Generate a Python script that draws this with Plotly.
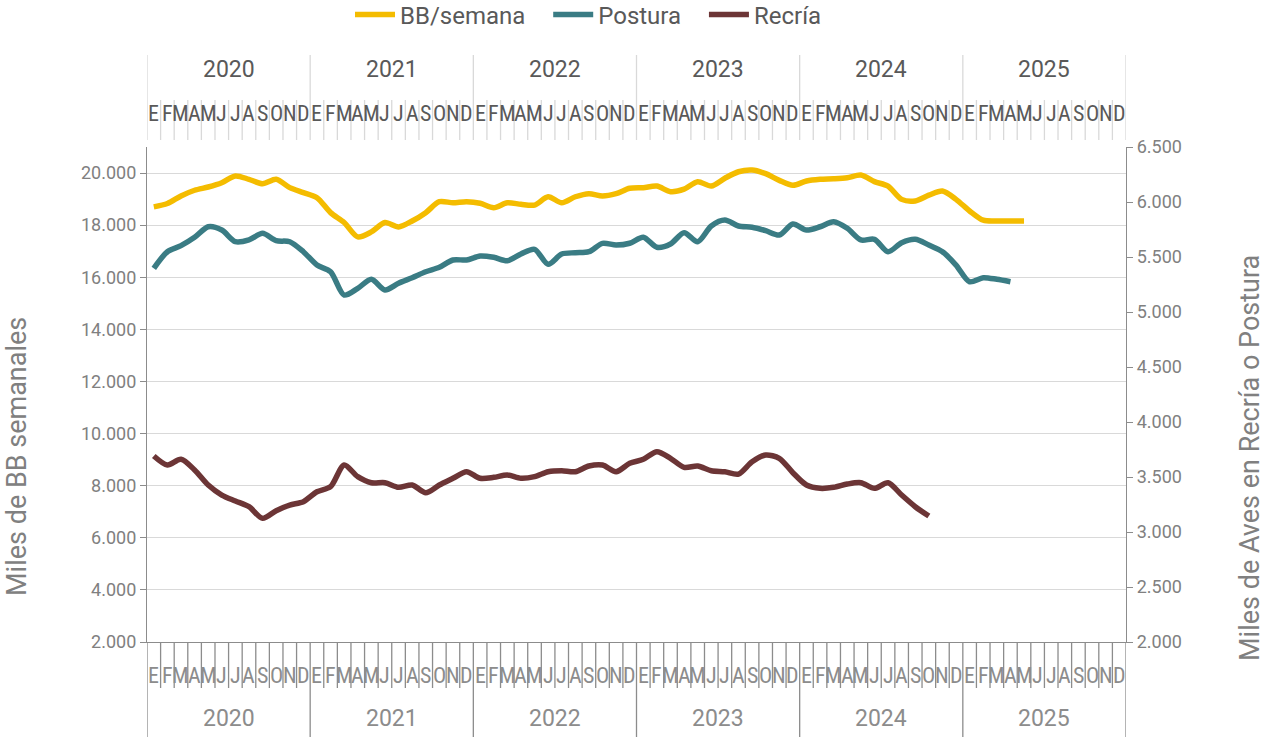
import plotly.graph_objects as go

YEARS = ["2020", "2021", "2022", "2023", "2024", "2025"]
MONTHS = ["E", "F", "M", "A", "M", "J", "J", "A", "S", "O", "N", "D"]
SERIES_NAMES = ["BB/semana", "Postura", "Recría"]

# Monthly values starting Jan 2020
bb_semana = [18700, 18830, 19120, 19340, 19465, 19630, 19890, 19760, 19590, 19760, 19440, 19250,
             19055, 18480, 18100, 17550, 17740, 18100, 17930, 18160, 18480, 18900, 18860, 18900,
             18840, 18670, 18860, 18800, 18770, 19090, 18860, 19090, 19210, 19120, 19210, 19415,
             19440, 19500, 19285, 19380, 19670, 19500, 19800, 20050, 20115, 19975, 19720, 19530,
             19695, 19760, 19780, 19820, 19925, 19670, 19500, 18990, 18930, 19150, 19310, 18990,
             18545, 18190, 18160, 18160, 18160]
postura = [5397, 5548, 5603, 5679, 5775, 5745, 5639, 5655, 5715, 5648, 5639, 5548,
           5427, 5366, 5154, 5215, 5297, 5200, 5261, 5312, 5366, 5406, 5473, 5473,
           5509, 5497, 5466, 5527, 5570, 5434, 5527, 5539, 5548, 5624, 5609, 5625,
           5679, 5588, 5618, 5721, 5639, 5782, 5836, 5782, 5770, 5739, 5700, 5800,
           5745, 5775, 5821, 5761, 5655, 5661, 5548, 5630, 5661, 5609, 5548, 5427,
           5275, 5312, 5297, 5275]
recria = [3691, 3609, 3661, 3564, 3427, 3336, 3282, 3230, 3124, 3194, 3245, 3275,
          3366, 3412, 3609, 3503, 3448, 3448, 3406, 3427, 3357, 3427, 3488, 3548,
          3488, 3497, 3518, 3488, 3503, 3548, 3557, 3548, 3600, 3609, 3548, 3624,
          3661, 3730, 3670, 3588, 3600, 3557, 3548, 3527, 3639, 3700, 3670, 3539,
          3427, 3397, 3406, 3436, 3448, 3397, 3448, 3336, 3230, 3145]

N_MONTHS = len(YEARS) * 12
FONT = "Roboto, 'Noto Sans', sans-serif"
NARROW = "'Liberation Sans Narrow', 'Roboto Condensed', 'DejaVu Sans Condensed', Roboto, sans-serif"

# body margin is removed in the page, so the figure fills the 1275x737 window
W, HT = 1275, 737
PL, PT, PW, PH = 147, 147, 979, 495
PAD = "\u00a0" * 3  # extra space between legend entries

def xs(values):
    return [i + 0.5 for i in range(len(values))]

fig = go.Figure()
fig.add_trace(go.Scatter(x=xs(bb_semana), y=bb_semana, name=SERIES_NAMES[0] + PAD, mode="lines",
                         line=dict(color="#F4BC00", width=5.5, shape="spline", smoothing=0.8),
                         yaxis="y"))
fig.add_trace(go.Scatter(x=xs(postura), y=postura, name=SERIES_NAMES[1] + PAD, mode="lines",
                         line=dict(color="#3A7C84", width=5.5, shape="spline", smoothing=0.8),
                         yaxis="y2"))
fig.add_trace(go.Scatter(x=xs(recria), y=recria, name=SERIES_NAMES[2], mode="lines",
                         line=dict(color="#6C3536", width=5.5, shape="spline", smoothing=0.8),
                         yaxis="y2"))

def py(px_from_bottom):
    return px_from_bottom / PH

def px(page_x):
    return (page_x - PL) / PW

shapes = []
annotations = []
for i in range(N_MONTHS + 1):
    is_year = (i % 12 == 0)
    shapes.append(dict(type="line", xref="x", yref="paper", x0=i, x1=i,
                       y0=0, y1=py(-95 if is_year else -46),
                       line=dict(color="#8C8C8C", width=1.3)))
    shapes.append(dict(type="line", xref="x", yref="paper", x0=i, x1=i,
                       y0=py(502), y1=py(587 if is_year else 542),
                       line=dict(color="#D9D9D9", width=1.3)))
for i in range(N_MONTHS):
    m = MONTHS[i % 12]
    annotations.append(dict(x=i + 0.5, y=py(-33), xref="x", yref="paper", text=m,
                            showarrow=False, font=dict(family=NARROW, size=22, color="#8C8C8C"),
                            xanchor="center", yanchor="middle"))
    annotations.append(dict(x=i + 0.5, y=py(529), xref="x", yref="paper", text=m,
                            showarrow=False, font=dict(family=NARROW, size=22, color="#595959"),
                            xanchor="center", yanchor="middle"))
for k, yr in enumerate(YEARS):
    annotations.append(dict(x=k * 12 + 6, y=py(-76), xref="x", yref="paper", text=yr,
                            showarrow=False, font=dict(family=FONT, size=23, color="#8C8C8C"),
                            xanchor="center", yanchor="middle"))
    annotations.append(dict(x=k * 12 + 6, y=py(573), xref="x", yref="paper", text=yr,
                            showarrow=False, font=dict(family=FONT, size=23, color="#595959"),
                            xanchor="center", yanchor="middle"))

# axis titles (placed like the reference, slightly below the plot's centre)
annotations.append(dict(x=px(17), y=py(642 - 457), xref="paper", yref="paper",
                        text="Miles de BB semanales", textangle=-90, showarrow=False,
                        font=dict(family=FONT, size=27, color="#808080"),
                        xanchor="center", yanchor="middle"))
annotations.append(dict(x=px(1250), y=py(642 - 458), xref="paper", yref="paper",
                        text="Miles de Aves en Recría o Postura", textangle=-90, showarrow=False,
                        font=dict(family=FONT, size=27, color="#808080"),
                        xanchor="center", yanchor="middle"))

fig.update_layout(
    width=W, height=HT,
    margin=dict(l=PL, r=W - PL - PW, t=PT, b=HT - PT - PH, autoexpand=False),
    paper_bgcolor="white", plot_bgcolor="white",
    separators=",.",
    font=dict(family=FONT, size=18, color="#808080"),
    showlegend=True,
    legend=dict(orientation="h", x=px(350), xanchor="left", y=py(627), yanchor="middle",
                font=dict(family=FONT, size=24, color="#595959"),
                itemwidth=40, tracegroupgap=0, bgcolor="rgba(0,0,0,0)"),
    xaxis=dict(range=[0, N_MONTHS], showgrid=False, zeroline=False, showticklabels=False,
               ticks="", showline=True, linecolor="#8C8C8C", linewidth=1.3, fixedrange=True),
    yaxis=dict(range=[2000, 21000], tickvals=list(range(2000, 20001, 2000)), tickformat=",d",
               showgrid=True, gridcolor="#D9D9D9", gridwidth=1.3, zeroline=False,
               showline=True, linecolor="#8C8C8C", linewidth=1.3,
               ticks="outside", ticklen=6, tickcolor="#8C8C8C",
               tickfont=dict(family=FONT, size=18, color="#808080")),
    yaxis2=dict(range=[2000, 6500], dtick=500, tick0=2000, tickformat=",d",
                overlaying="y", side="right", showgrid=False, zeroline=False,
                showline=True, linecolor="#8C8C8C", linewidth=1.3,
                ticks="outside", ticklen=6, tickcolor="#8C8C8C",
                tickfont=dict(family=FONT, size=18, color="#808080")),
    shapes=shapes,
    annotations=annotations,
)

fig.write_html("out.html", config={"displayModeBar": False},
               post_script="document.body.style.margin='0';document.body.style.overflow='hidden';")
